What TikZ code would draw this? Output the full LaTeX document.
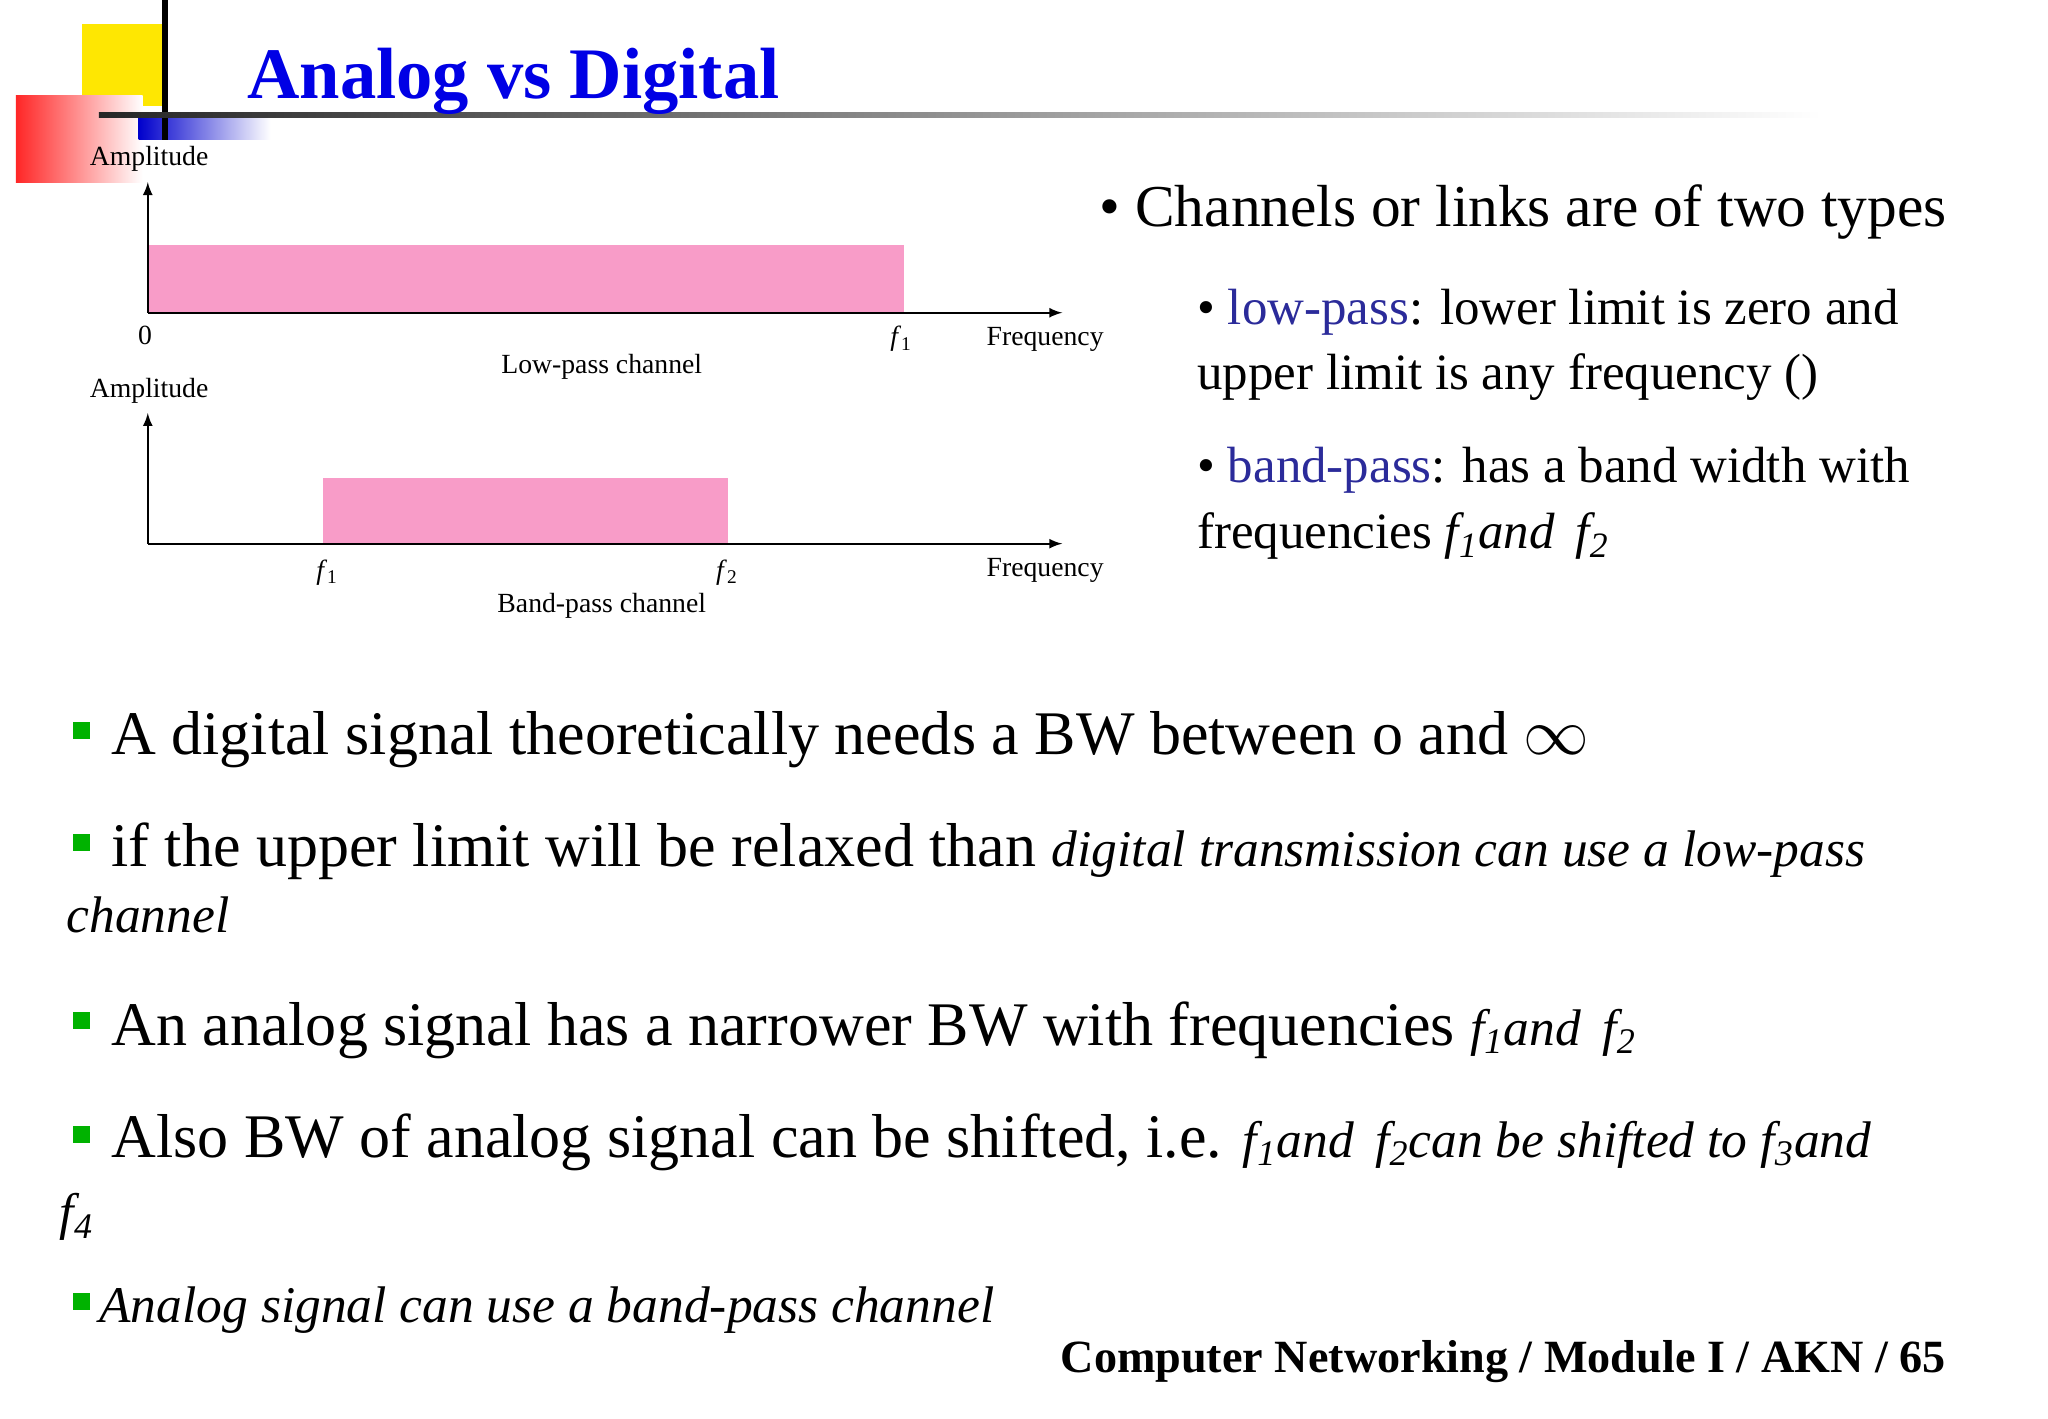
\documentclass[tikz,border=0pt]{standalone}
\usepackage{fontspec}
\setmainfont{Liberation Serif}
\begin{document}
\begin{tikzpicture}[x=0.5pt,y=-0.5pt,
  lab/.style={font=\fontsize{10.5}{12}\selectfont,inner sep=0},
  txt/.style={font=\fontsize{23.5}{27}\selectfont,anchor=base west,inner sep=0},
  sub/.style={font=\fontsize{19.3}{23}\selectfont,anchor=base west,inner sep=0},
  gb/.style={fill=green!70!black,draw=none},
  ax/.style={line width=0.7pt,-latex}]
\definecolor{bandc}{HTML}{F89CC8}
\definecolor{dblue}{HTML}{2B2B9A}
\useasboundingbox[fill=white] (0,0) rectangle (1552,1075);
% logo
\fill[yellow!90!orange] (62,18) rectangle (125,80);
\shade[left color=red!85,right color=white] (12,72) rectangle (108,138);
\shade[left color=blue!80!black,right color=white] (105,86) rectangle (205,106);
\draw[line width=2.5pt] (125,0) -- (125,106);
\shade[left color=black!85,right color=white] (75,85) rectangle (1380,89);
\node[anchor=base west,inner sep=0,text=blue!90!black,font=\fontsize{27.5}{32}\selectfont\bfseries] (title) at (187,75) {Analog vs Digital};
% graph 1
\coordinate (o1) at (112,237);
\fill[bandc] (113,186) rectangle (685,237);
\draw[ax] (o1) -- (112,138);
\draw[ax] (o1) -- (805,237);
\node[lab] (a1) at (113,120) {Amplitude};
\node[lab] (z1) at (110,254) {0};
\node[lab] (f1a) at (683,257) {\textit{f}\textsubscript{1}};
\node[lab] (fr1) at (792,257) {Frequency};
\node[lab] (lp) at (456,278) {Low-pass channel};
% graph 2
\coordinate (o2) at (112,412);
\fill[bandc] (245,362) rectangle (552,412);
\draw[ax] (o2) -- (112,313);
\draw[ax] (o2) -- (805,412);
\node[lab] (a2) at (113,296) {Amplitude};
\node[lab] (f1b) at (248,434) {\textit{f}\textsubscript{1}};
\node[lab] (f2b) at (551,434) {\textit{f}\textsubscript{2}};
\node[lab] (fr2) at (792,432) {Frequency};
\node[lab] (bp) at (456,459) {Band-pass channel};
% right bullets
\node[anchor=base west,inner sep=0,font=\fontsize{22.5}{26}\selectfont] (r0) at (833,172) {• Channels or links are of two types};
\node[sub] (r1) at (907,246) {• \textcolor{dblue}{low-pass}: lower limit is zero and};
\node[sub] (r2) at (907,295) {upper limit is any frequency ()};
\node[sub] (r3) at (907,366) {• \textcolor{dblue}{band-pass}: has a band width with};
\node[sub] (r4) at (907,416) {frequencies \textit{f\textsubscript{1}and\, f\textsubscript{2}}};
% green bullets
\foreach \y in {554,639,774,860,987}{\fill[gb] (55,\y-7) rectangle (68,\y+6);}
\node[txt] (b1) at (84,572) {A digital signal theoretically needs a BW between o and $\infty$};
\node[txt] (b2) at (84,657) {if the upper limit will be relaxed than \textit{\fontsize{19.5}{23}\selectfont digital transmission can use a low-pass}};
\node[txt] (b2b) at (50,707) {\textit{\fontsize{19.5}{23}\selectfont channel}};
\node[txt] (b3) at (84,792) {An analog signal has a narrower BW with frequencies \textit{\fontsize{19.5}{23}\selectfont f\textsubscript{1}and\, f\textsubscript{2}}};
\node[txt] (b4) at (84,877) {Also BW of analog signal can be shifted, i.e. \textit{\fontsize{19.5}{23}\selectfont f\textsubscript{1}and\, f\textsubscript{2}can be shifted to f\textsubscript{3}and}};
\node[txt] (b4b) at (45,932) {\textit{\fontsize{19.5}{23}\selectfont f\textsubscript{4}}};
\node[anchor=base west,inner sep=0,font=\fontsize{19.5}{23}\selectfont\itshape] (b5) at (75,1002) {Analog signal can use a band-pass channel};
\node[anchor=base east,inner sep=0,font=\fontsize{17.5}{20}\selectfont\bfseries] (foot) at (1475,1040) {Computer Networking / Module I / AKN / 65};
\end{tikzpicture}
\end{document}
